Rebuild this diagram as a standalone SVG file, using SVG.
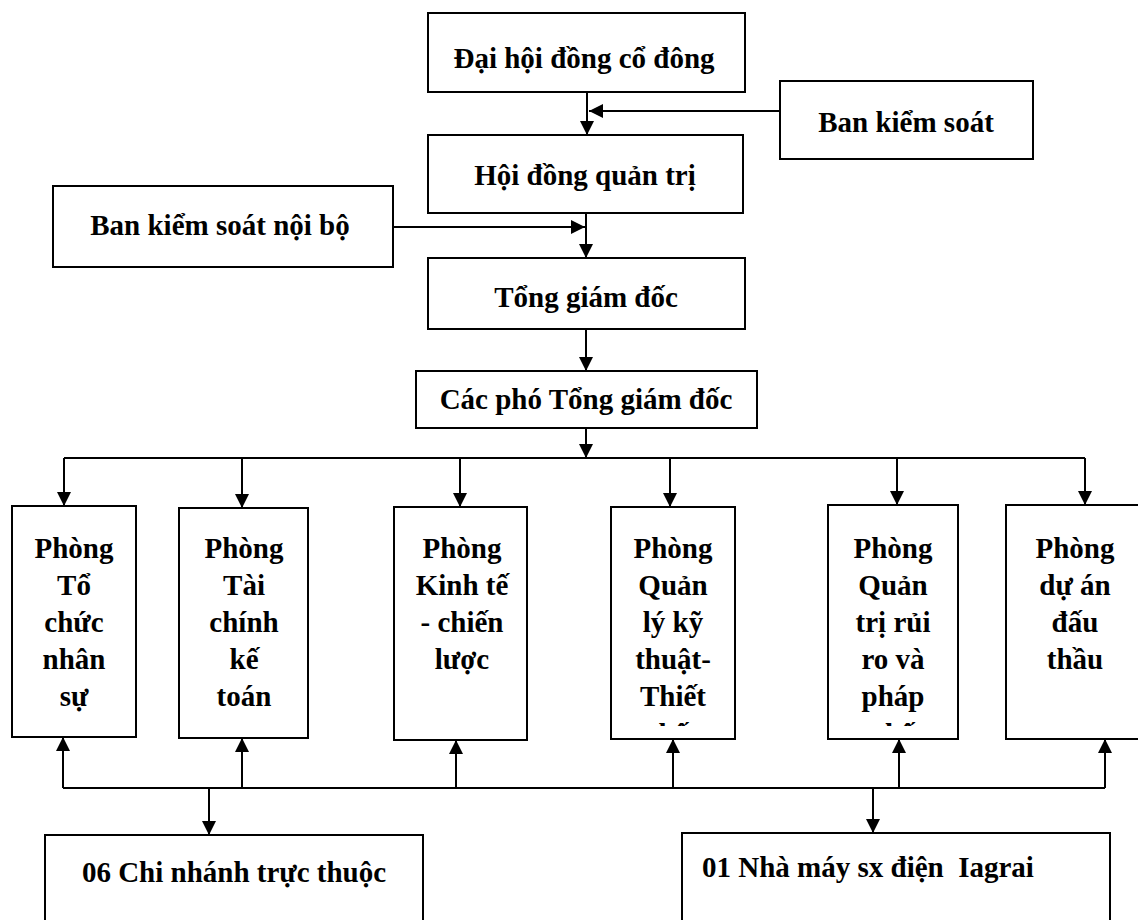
<svg xmlns="http://www.w3.org/2000/svg" width="1138" height="920" viewBox="0 0 1138 920">
<defs>
<style>
.box{fill:#fff;stroke:#000;stroke-width:2}
.t{font-family:"Liberation Serif","Times New Roman",serif;font-weight:bold;font-size:29px;fill:#000;text-anchor:middle}
.tl{font-family:"Liberation Serif","Times New Roman",serif;font-weight:bold;font-size:29px;fill:#000;text-anchor:start;white-space:pre}
.c{fill:none;stroke:#000;stroke-width:2}
</style>
<marker id="ah" markerUnits="userSpaceOnUse" markerWidth="14" markerHeight="14" refX="14" refY="7" orient="auto">
<path d="M0,0 L14,7 L0,14 z" fill="#000"/>
</marker>
<clipPath id="clip4"><rect x="611" y="507" width="124" height="219"/></clipPath>
<clipPath id="clip5"><rect x="828" y="505" width="130" height="221"/></clipPath>
</defs>
<rect width="1138" height="920" fill="#fff"/>

<g id="connectors">
<path class="c" d="M587,92 V135" marker-end="url(#ah)"/>
<path class="c" d="M780,111 H589" marker-end="url(#ah)"/>
<path class="c" d="M586,213 V258" marker-end="url(#ah)"/>
<path class="c" d="M393,227 H585" marker-end="url(#ah)"/>
<path class="c" d="M586,329 V371" marker-end="url(#ah)"/>
<path class="c" d="M586,428 V458" marker-end="url(#ah)"/>
<path class="c" d="M64,458 H1085"/>
<path class="c" d="M64,458 V506" marker-end="url(#ah)"/>
<path class="c" d="M242,458 V508" marker-end="url(#ah)"/>
<path class="c" d="M460,458 V507" marker-end="url(#ah)"/>
<path class="c" d="M670,458 V507" marker-end="url(#ah)"/>
<path class="c" d="M897,458 V505" marker-end="url(#ah)"/>
<path class="c" d="M1085,458 V505" marker-end="url(#ah)"/>
<path class="c" d="M63,788 H1105"/>
<path class="c" d="M63,788 V737" marker-end="url(#ah)"/>
<path class="c" d="M242,788 V738" marker-end="url(#ah)"/>
<path class="c" d="M456,788 V740" marker-end="url(#ah)"/>
<path class="c" d="M673,788 V739" marker-end="url(#ah)"/>
<path class="c" d="M899,788 V739" marker-end="url(#ah)"/>
<path class="c" d="M1105,788 V739" marker-end="url(#ah)"/>
<path class="c" d="M209,788 V835" marker-end="url(#ah)"/>
<path class="c" d="M873,788 V833" marker-end="url(#ah)"/>
</g>

<g id="dhdcd">
<rect class="box" x="428" y="13" width="317" height="79"/>
<text class="t" x="584" y="68">Đại hội đồng cổ đông</text>
</g>
<g id="bks">
<rect class="box" x="780" y="81" width="253" height="78"/>
<text class="t" x="906" y="132">Ban kiểm soát</text>
</g>
<g id="hdqt">
<rect class="box" x="428" y="135" width="315" height="78"/>
<text class="t" x="585" y="185">Hội đồng quản trị</text>
</g>
<g id="bksnb">
<rect class="box" x="53" y="186" width="340" height="81"/>
<text class="t" x="220" y="235">Ban kiểm soát nội bộ</text>
</g>
<g id="tgd">
<rect class="box" x="428" y="258" width="317" height="71"/>
<text class="t" x="586" y="307">Tổng giám đốc</text>
</g>
<g id="cptgd">
<rect class="box" x="416" y="371" width="341" height="57"/>
<text class="t" x="586" y="409">Các phó Tổng giám đốc</text>
</g>

<g id="p1">
<rect class="box" x="12" y="506" width="124" height="231"/>
<text class="t" x="74" y="558">Phòng</text>
<text class="t" x="74" y="595">Tổ</text>
<text class="t" x="74" y="632">chức</text>
<text class="t" x="74" y="669">nhân</text>
<text class="t" x="74" y="706">sự</text>
</g>
<g id="p2">
<rect class="box" x="179" y="508" width="129" height="230"/>
<text class="t" x="244" y="558">Phòng</text>
<text class="t" x="244" y="595">Tài</text>
<text class="t" x="244" y="632">chính</text>
<text class="t" x="244" y="669">kế</text>
<text class="t" x="244" y="706">toán</text>
</g>
<g id="p3">
<rect class="box" x="394" y="507" width="133" height="233"/>
<text class="t" x="462" y="558">Phòng</text>
<text class="t" x="462" y="595">Kinh tế</text>
<text class="t" x="462" y="632">- chiến</text>
<text class="t" x="462" y="669">lược</text>
</g>
<g id="p4">
<rect class="box" x="611" y="507" width="124" height="232"/>
<text class="t" x="673" y="558">Phòng</text>
<text class="t" x="673" y="595">Quản</text>
<text class="t" x="673" y="632">lý kỹ</text>
<text class="t" x="673" y="669">thuật-</text>
<text class="t" x="673" y="706">Thiết</text>
<text class="t" x="673" y="744" clip-path="url(#clip4)">kế</text>
</g>
<g id="p5">
<rect class="box" x="828" y="505" width="130" height="234"/>
<text class="t" x="893" y="558">Phòng</text>
<text class="t" x="893" y="595">Quản</text>
<text class="t" x="893" y="632">trị rủi</text>
<text class="t" x="893" y="669">ro và</text>
<text class="t" x="893" y="706">pháp</text>
<text class="t" x="893" y="744" clip-path="url(#clip5)">chế</text>
</g>
<g id="p6">
<rect class="box" x="1006" y="505" width="140" height="234"/>
<text class="t" x="1075" y="558">Phòng</text>
<text class="t" x="1075" y="595">dự án</text>
<text class="t" x="1075" y="632">đấu</text>
<text class="t" x="1075" y="669">thầu</text>
</g>

<g id="chinhanh">
<rect class="box" x="45" y="835" width="378" height="100"/>
<text class="t" x="234" y="882">06 Chi nhánh trực thuộc</text>
</g>
<g id="nhamay">
<rect class="box" x="682" y="833" width="428" height="100"/>
<text class="tl" x="702" y="877" xml:space="preserve">01 Nhà máy sx điện  Iagrai</text>
</g>
</svg>
